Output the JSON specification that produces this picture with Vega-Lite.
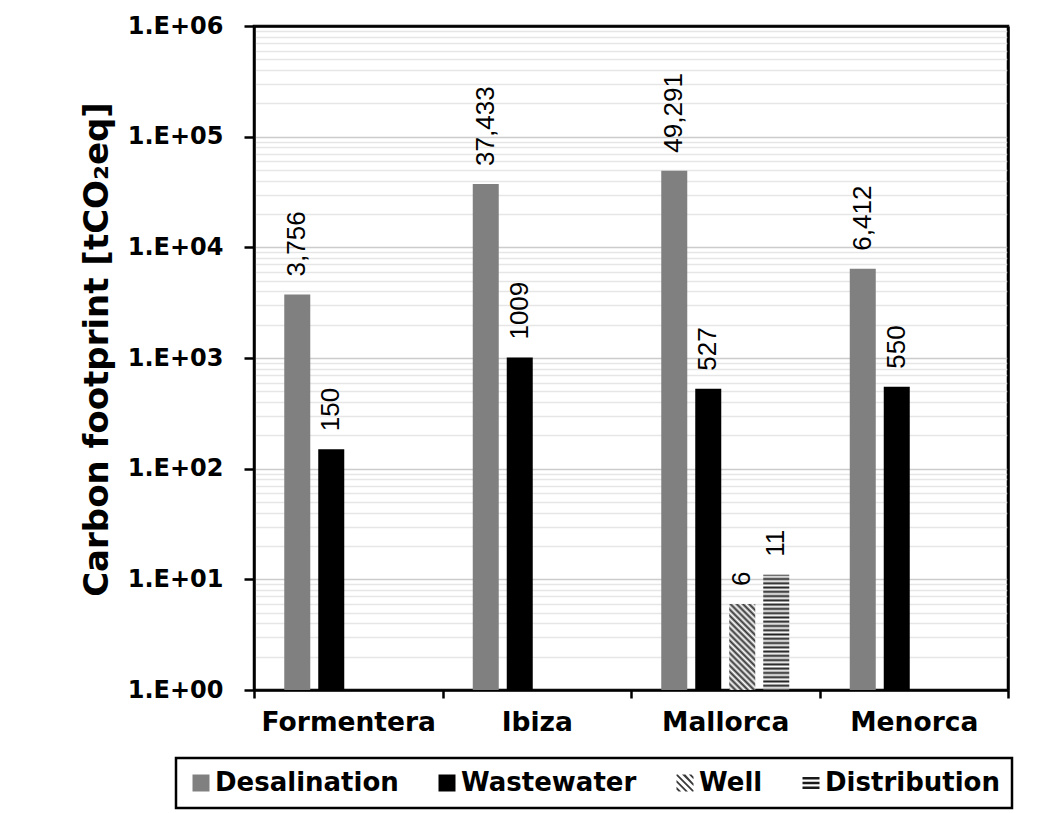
{
  "$schema": "https://vega.github.io/schema/vega-lite/v6.json",
  "width": 754,
  "height": 664,
  "autosize": {"type": "none"},
  "padding": {"left": 254, "top": 26, "right": 41, "bottom": 123},
  "background": "white",
  "config": {
    "view": {"stroke": "black", "strokeWidth": 2.5},
    "legend": {
      "labelFont": "DejaVu Sans",
      "labelFontWeight": "bold",
      "labelFontSize": 26,
      "labelColor": "black",
      "labelLimit": 400,
      "symbolSize": 289,
      "symbolStrokeWidth": 0,
      "symbolOpacity": 1,
      "columnPadding": 35,
      "labelOffset": 1,
      "padding": 12,
      "strokeColor": "black",
      "strokeWidth": 2.5
    }
  },
  "data": {
    "values": [
      {"Island": "Formentera", "Stage": "Desalination", "value": 3756, "label": "3,756"},
      {"Island": "Formentera", "Stage": "Wastewater", "value": 150, "label": "150"},
      {"Island": "Ibiza", "Stage": "Desalination", "value": 37433, "label": "37,433"},
      {"Island": "Ibiza", "Stage": "Wastewater", "value": 1009, "label": "1009"},
      {"Island": "Mallorca", "Stage": "Desalination", "value": 49291, "label": "49,291"},
      {"Island": "Mallorca", "Stage": "Wastewater", "value": 527, "label": "527"},
      {"Island": "Mallorca", "Stage": "Well", "value": 6, "label": "6"},
      {"Island": "Mallorca", "Stage": "Distribution", "value": 11, "label": "11"},
      {"Island": "Menorca", "Stage": "Desalination", "value": 6412, "label": "6,412"},
      {"Island": "Menorca", "Stage": "Wastewater", "value": 550, "label": "550"}
    ]
  },
  "resolve": {"axis": {"x": "independent", "y": "independent"}},
  "layer": [
    {
      "encoding": {
        "x": {
          "field": "Island",
          "type": "nominal",
          "sort": ["Formentera", "Ibiza", "Mallorca", "Menorca"],
          "scale": {"paddingInner": 0, "paddingOuter": 0},
          "axis": {
            "title": null,
            "labelFont": "DejaVu Sans",
            "labelFontWeight": "bold",
            "labelFontSize": 26.5,
            "labelColor": "black",
            "labelAngle": 0,
            "labelPadding": 11,
            "tickBand": "extent",
            "tickSize": 8,
            "tickWidth": 2.5,
            "tickColor": "black",
            "domainColor": "black",
            "domainWidth": 2.5,
            "grid": false
          }
        },
        "xOffset": {
          "field": "Stage",
          "type": "nominal",
          "scale": {
            "domain": ["Desalination", "Wastewater", "Well", "Distribution"],
            "paddingInner": 0.235,
            "paddingOuter": 0.89
          }
        },
        "y": {
          "field": "value",
          "type": "quantitative",
          "scale": {"type": "log", "domain": [1, 1000000], "nice": false},
          "axis": {
            "title": "Carbon footprint [tCO₂eq]",
            "values": [1,2,3,4,5,6,7,8,9,10,20,30,40,50,60,70,80,90,100,200,300,400,500,600,700,800,900,1000,2000,3000,4000,5000,6000,7000,8000,9000,10000,20000,30000,40000,50000,60000,70000,80000,90000,100000,200000,300000,400000,500000,600000,700000,800000,900000,1000000],
            "labelExpr": "abs(log(datum.value)/LN10 - round(log(datum.value)/LN10)) < 0.001 ? '1.E+0' + round(log(datum.value)/LN10) : ''",
            "labelOverlap": false,
            "labelFlush": false,
            "labelFont": "DejaVu Sans",
            "labelFontWeight": "bold",
            "labelFontSize": 24,
            "labelColor": "black",
            "labelPadding": 21,
            "tickSize": 10,
            "tickWidth": 2.5,
            "tickColor": "black",
            "tickOpacity": {"condition": {"test": "abs(log(datum.value)/LN10 - round(log(datum.value)/LN10)) < 0.001", "value": 1}, "value": 0},
            "domainColor": "black",
            "domainWidth": 2.5,
            "grid": true,
            "gridColor": {"condition": {"test": "abs(log(datum.value)/LN10 - round(log(datum.value)/LN10)) < 0.001", "value": "#cccccc"}, "value": "#e6e6e6"},
            "gridWidth": 1.5,
            "titleFont": "DejaVu Sans",
            "titleFontWeight": "bold",
            "titleFontSize": 34,
            "titleColor": "black",
            "titleAngle": 270,
            "titleAlign": "center",
            "titleBaseline": "middle",
            "titleX": -157,
            "titleY": 323
          }
        }
      },
      "layer": [
        {
          "mark": {"type": "point", "filled": true, "opacity": 0, "size": 289},
          "encoding": {
            "color": {
              "field": "Stage",
              "type": "nominal",
              "scale": {"domain": ["Desalination", "Wastewater", "Well", "Distribution"], "range": ["#808080", "#000000", "#3a3a3a", "#1a1a1a"]},
              "legend": {"title": null, "orient": "none", "direction": "horizontal", "legendX": -78, "legendY": 732}
            },
            "shape": {
              "field": "Stage",
              "type": "nominal",
              "scale": {"domain": ["Desalination", "Wastewater", "Well", "Distribution"], "range": ["square", "square", "M-1,-1L-0.85,-1L1,0.85L1,1L0.85,1L-1,-0.85Z M-1,-0.35L0.35,1L0.05,1L-1,-0.05Z M-0.35,-1L0.05,-1L1,0.05L1,0.35Z M-1,0.45L-0.45,1L-0.75,1L-1,0.75Z M0.45,-1L0.75,-1L1,-0.75L1,-0.45Z", "M-1,-0.7H1V-0.42H-1Z M-1,-0.14H1V0.14H-1Z M-1,0.42H1V0.7H-1Z"]},
              "legend": {"title": null, "orient": "none", "direction": "horizontal", "legendX": -78, "legendY": 732}
            }
          }
        },
        {
          "transform": [{"filter": "datum.Stage === 'Desalination'"}],
          "mark": {"type": "bar", "color": "#808080"},
          "encoding": {"y2": {"datum": 1}}
        },
        {
          "transform": [{"filter": "datum.Stage === 'Wastewater'"}],
          "mark": {"type": "bar", "color": "#000000"},
          "encoding": {"y2": {"datum": 1}}
        },
        {
          "transform": [{"filter": "datum.Stage === 'Well'"}],
          "mark": {
            "type": "bar",
            "fill": {
              "gradient": "linear", "x1": 0, "y1": 1, "x2": 0.36, "y2": -0.193,
              "stops": [
                {"offset": 0, "color": "#333333"}, {"offset": 0.0278, "color": "#ffffff"},
                {"offset": 0.0556, "color": "#333333"}, {"offset": 0.0833, "color": "#ffffff"},
                {"offset": 0.1111, "color": "#333333"}, {"offset": 0.1389, "color": "#ffffff"},
                {"offset": 0.1667, "color": "#333333"}, {"offset": 0.1944, "color": "#ffffff"},
                {"offset": 0.2222, "color": "#333333"}, {"offset": 0.25, "color": "#ffffff"},
                {"offset": 0.2778, "color": "#333333"}, {"offset": 0.3056, "color": "#ffffff"},
                {"offset": 0.3333, "color": "#333333"}, {"offset": 0.3611, "color": "#ffffff"},
                {"offset": 0.3889, "color": "#333333"}, {"offset": 0.4167, "color": "#ffffff"},
                {"offset": 0.4444, "color": "#333333"}, {"offset": 0.4722, "color": "#ffffff"},
                {"offset": 0.5, "color": "#333333"}, {"offset": 0.5278, "color": "#ffffff"},
                {"offset": 0.5556, "color": "#333333"}, {"offset": 0.5833, "color": "#ffffff"},
                {"offset": 0.6111, "color": "#333333"}, {"offset": 0.6389, "color": "#ffffff"},
                {"offset": 0.6667, "color": "#333333"}, {"offset": 0.6944, "color": "#ffffff"},
                {"offset": 0.7222, "color": "#333333"}, {"offset": 0.75, "color": "#ffffff"},
                {"offset": 0.7778, "color": "#333333"}, {"offset": 0.8056, "color": "#ffffff"},
                {"offset": 0.8333, "color": "#333333"}, {"offset": 0.8611, "color": "#ffffff"},
                {"offset": 0.8889, "color": "#333333"}, {"offset": 0.9167, "color": "#ffffff"},
                {"offset": 0.9444, "color": "#333333"}, {"offset": 0.9722, "color": "#ffffff"},
                {"offset": 1, "color": "#333333"}
              ]
            }
          },
          "encoding": {"y2": {"datum": 1}}
        },
        {
          "transform": [{"filter": "datum.Stage === 'Distribution'"}],
          "mark": {
            "type": "bar",
            "fill": {
              "gradient": "linear", "x1": 0, "y1": 0, "x2": 0, "y2": 1,
              "stops": [
                {"offset": 0, "color": "#222222"}, {"offset": 0.0185, "color": "#ffffff"},
                {"offset": 0.037, "color": "#222222"}, {"offset": 0.0556, "color": "#ffffff"},
                {"offset": 0.0741, "color": "#222222"}, {"offset": 0.0926, "color": "#ffffff"},
                {"offset": 0.1111, "color": "#222222"}, {"offset": 0.1296, "color": "#ffffff"},
                {"offset": 0.1481, "color": "#222222"}, {"offset": 0.1667, "color": "#ffffff"},
                {"offset": 0.1852, "color": "#222222"}, {"offset": 0.2037, "color": "#ffffff"},
                {"offset": 0.2222, "color": "#222222"}, {"offset": 0.2407, "color": "#ffffff"},
                {"offset": 0.2593, "color": "#222222"}, {"offset": 0.2778, "color": "#ffffff"},
                {"offset": 0.2963, "color": "#222222"}, {"offset": 0.3148, "color": "#ffffff"},
                {"offset": 0.3333, "color": "#222222"}, {"offset": 0.3519, "color": "#ffffff"},
                {"offset": 0.3704, "color": "#222222"}, {"offset": 0.3889, "color": "#ffffff"},
                {"offset": 0.4074, "color": "#222222"}, {"offset": 0.4259, "color": "#ffffff"},
                {"offset": 0.4444, "color": "#222222"}, {"offset": 0.463, "color": "#ffffff"},
                {"offset": 0.4815, "color": "#222222"}, {"offset": 0.5, "color": "#ffffff"},
                {"offset": 0.5185, "color": "#222222"}, {"offset": 0.537, "color": "#ffffff"},
                {"offset": 0.5556, "color": "#222222"}, {"offset": 0.5741, "color": "#ffffff"},
                {"offset": 0.5926, "color": "#222222"}, {"offset": 0.6111, "color": "#ffffff"},
                {"offset": 0.6296, "color": "#222222"}, {"offset": 0.6481, "color": "#ffffff"},
                {"offset": 0.6667, "color": "#222222"}, {"offset": 0.6852, "color": "#ffffff"},
                {"offset": 0.7037, "color": "#222222"}, {"offset": 0.7222, "color": "#ffffff"},
                {"offset": 0.7407, "color": "#222222"}, {"offset": 0.7593, "color": "#ffffff"},
                {"offset": 0.7778, "color": "#222222"}, {"offset": 0.7963, "color": "#ffffff"},
                {"offset": 0.8148, "color": "#222222"}, {"offset": 0.8333, "color": "#ffffff"},
                {"offset": 0.8519, "color": "#222222"}, {"offset": 0.8704, "color": "#ffffff"},
                {"offset": 0.8889, "color": "#222222"}, {"offset": 0.9074, "color": "#ffffff"},
                {"offset": 0.9259, "color": "#222222"}, {"offset": 0.9444, "color": "#ffffff"},
                {"offset": 0.963, "color": "#222222"}, {"offset": 0.9815, "color": "#ffffff"},
                {"offset": 1, "color": "#222222"}
              ]
            }
          },
          "encoding": {"y2": {"datum": 1}}
        }
      ]
    },
    {
      "mark": {"type": "text", "angle": 270, "align": "left", "baseline": "middle", "dx": 18, "font": "Liberation Sans", "fontSize": 26, "color": "black"},
      "encoding": {
        "x": {
          "field": "Island",
          "type": "nominal",
          "sort": ["Formentera", "Ibiza", "Mallorca", "Menorca"],
          "axis": {"orient": "top", "title": null, "labels": false, "ticks": false, "grid": false, "domainColor": "black", "domainWidth": 2.5}
        },
        "xOffset": {"field": "Stage", "type": "nominal"},
        "y": {
          "field": "value",
          "type": "quantitative",
          "axis": {"orient": "right", "title": null, "labels": false, "ticks": false, "grid": false, "domainColor": "black", "domainWidth": 2.5}
        },
        "text": {"field": "label"}
      }
    }
  ]
}
